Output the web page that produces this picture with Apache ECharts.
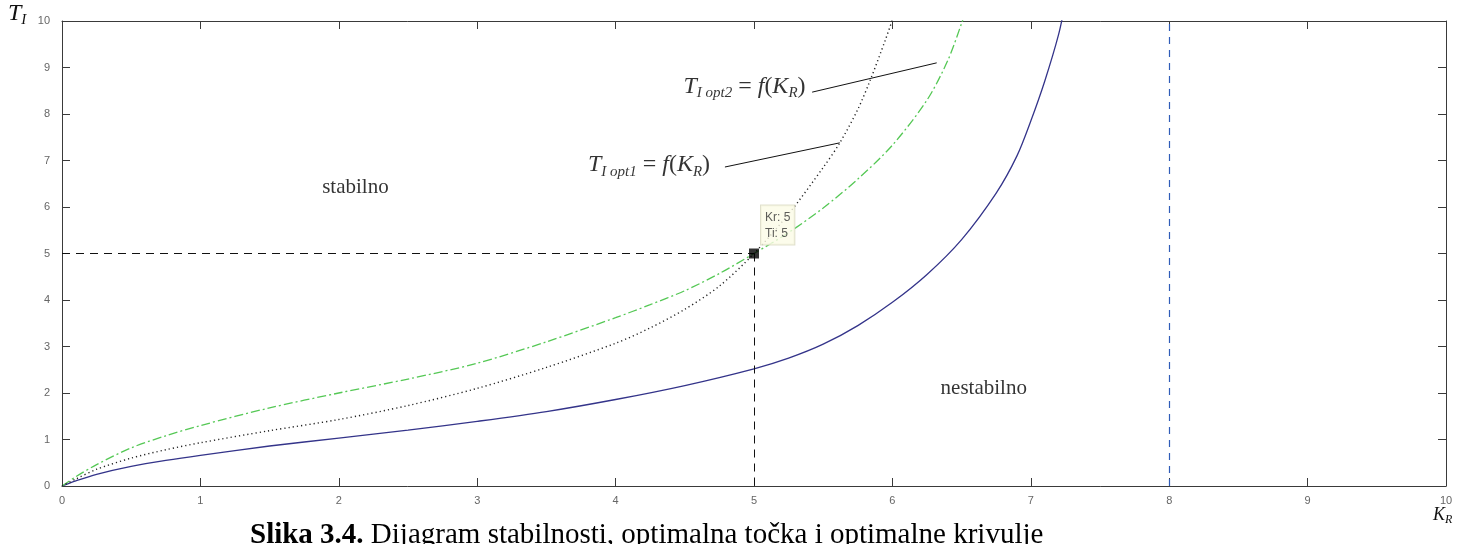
<!DOCTYPE html>
<html>
<head>
<meta charset="utf-8">
<script src="https://cdn.jsdelivr.net/npm/echarts@6.0.0/dist/echarts.min.js"></script>
<style>
html,body{margin:0;padding:0;background:#fff;}
#c{width:1473px;height:544px;}
</style>
</head>
<body>
<div id="c"></div>
<script>
// ---- data ----
var axisTicks = [0,1,2,3,4,5,6,7,8,9,10];

var stableK = [0, 0.1, 0.25, 0.5, 0.75, 1, 1.5, 2, 2.5, 3, 3.5, 4, 4.5, 5, 5.25, 5.5, 5.75, 6, 6.25, 6.5, 6.75, 6.9, 7, 7.1, 7.2, 7.25];
var stableT = [0, 0.11, 0.25, 0.42, 0.55, 0.66, 0.86, 1.03, 1.2, 1.39, 1.6, 1.86, 2.16, 2.52, 2.75, 3.05, 3.45, 3.95, 4.55, 5.3, 6.3, 7.1, 7.85, 8.7, 9.7, 10.4];

var opt2K = [0, 0.1, 0.25, 0.5, 0.75, 1, 1.5, 2, 2.5, 3, 3.5, 4, 4.25, 4.5, 4.75, 5, 5.25, 5.5, 5.75, 6, 6.25, 6.4, 6.5, 6.55];
var opt2T = [0, 0.2, 0.46, 0.82, 1.08, 1.3, 1.68, 2.0, 2.3, 2.64, 3.1, 3.62, 3.9, 4.2, 4.57, 5.0, 5.45, 5.98, 6.6, 7.33, 8.3, 9.15, 9.95, 10.4];

var opt1K = [0, 0.1, 0.25, 0.5, 0.75, 1, 1.5, 2, 2.5, 3, 3.5, 4, 4.25, 4.5, 4.75, 5, 5.25, 5.5, 5.62, 5.75, 5.84, 5.95, 6.02];
var opt1T = [0, 0.15, 0.36, 0.6, 0.78, 0.93, 1.19, 1.43, 1.73, 2.1, 2.55, 3.07, 3.4, 3.8, 4.3, 5.0, 5.85, 6.85, 7.38, 8.1, 8.73, 9.6, 10.2];

var optimumKr = 5, optimumTi = 5;
var limitKr = 8;

// annotation anchors (data coordinates)
var regionLabels = [
  {name: 'stabilno', k: 2.12, t: 6.41},
  {name: 'nestabilno', k: 6.66, t: 2.09}
];
var opt1Label = {k: 3.80, t: 6.90};
var opt2Label = {k: 4.49, t: 8.58};
var opt1Leader = [[4.79, 6.86], [5.62, 7.38]];
var opt2Leader = [[5.42, 8.47], [6.32, 9.10]];

function pairs(a, b) { return a.map(function (v, i) { return [v, b[i]]; }); }

var serif = '"Liberation Serif", "DejaVu Serif", serif';
var sans = '"Liberation Sans", Arial, sans-serif';

var mathRich = {
  T: {fontFamily: serif, fontStyle: 'italic', fontSize: 24, lineHeight: 28, color: '#000', verticalAlign: 'middle'},
  sub: {fontFamily: serif, fontStyle: 'italic', fontSize: 15, lineHeight: 20, color: '#000', verticalAlign: 'bottom'},
  n: {fontFamily: serif, fontSize: 24, lineHeight: 28, color: '#000', verticalAlign: 'middle'},
  it: {fontFamily: serif, fontStyle: 'italic', fontSize: 24, lineHeight: 28, color: '#000', verticalAlign: 'middle'}
};

var chart = echarts.init(document.getElementById('c'), null, {renderer: 'canvas'});

var axisCommon = {
  type: 'value', min: 0, max: 10, interval: 1,
  splitLine: {show: false},
  axisLine: {show: true, onZero: false, lineStyle: {color: '#3a3a3a', width: 1}},
  axisTick: {show: true, inside: true, length: 8, lineStyle: {color: '#3a3a3a'}}
};

var option = {
  backgroundColor: '#ffffff',
  animation: false,
  grid: {left: 62, right: 27, top: 21, bottom: 58, containLabel: false},
  xAxis: [
    Object.assign({}, axisCommon, {position: 'bottom',
      axisLabel: {show: true, color: '#666', fontSize: 11, fontFamily: sans, margin: 9,
        formatter: function (v) { return axisTicks.indexOf(v) >= 0 ? String(v) : ''; }}}),
    Object.assign({}, axisCommon, {position: 'top', axisLabel: {show: false}})
  ],
  yAxis: [
    Object.assign({}, axisCommon, {position: 'left',
      axisLabel: {show: true, color: '#666', fontSize: 11, fontFamily: sans, margin: 12,
        formatter: function (v) { return axisTicks.indexOf(v) >= 0 ? String(v) : ''; }}}),
    Object.assign({}, axisCommon, {position: 'right', axisLabel: {show: false}})
  ],
  series: [
    {
      name: 'stability limit', type: 'line', xAxisIndex: 0, yAxisIndex: 0,
      data: pairs(stableK, stableT), smooth: 0.3, showSymbol: false, clip: true,
      lineStyle: {color: '#34348a', width: 1.3, type: 'solid'},
      markLine: {
        silent: true, symbol: ['none', 'none'], label: {show: false},
        lineStyle: {color: '#2f5cb8', width: 1.2, type: [7, 6], opacity: 1},
        data: [{xAxis: limitKr, lineStyle: {color: '#2f5cb8'}}]
      }
    },
    {
      name: 'Ti opt2', type: 'line', data: pairs(opt2K, opt2T), smooth: 0.3, showSymbol: false, clip: true,
      lineStyle: {color: '#55c855', width: 1.3, type: [9, 3, 2, 3]},
      markLine: {
        silent: true, symbol: ['none', 'none'], label: {show: false},
        lineStyle: {color: '#111', width: 1, type: 'solid'},
        data: [[{coord: opt2Leader[0]}, {coord: opt2Leader[1]}]]
      }
    },
    {
      name: 'Ti opt1', type: 'line', data: pairs(opt1K, opt1T), smooth: 0.3, showSymbol: false, clip: true,
      lineStyle: {color: '#222', width: 1.4, type: [1.2, 3]},
      markLine: {
        silent: true, symbol: ['none', 'none'], label: {show: false},
        lineStyle: {color: '#111', width: 1, type: 'solid'},
        data: [[{coord: opt1Leader[0]}, {coord: opt1Leader[1]}]]
      }
    },
    {
      name: 'optimum', type: 'scatter', data: [[optimumKr, optimumTi]],
      symbol: 'rect', symbolSize: 10, itemStyle: {color: '#000'}, z: 5,
      label: {
        show: true, position: [12, -43], formatter: 'Kr: ' + optimumKr + '\nTi: ' + optimumTi,
        fontFamily: sans, fontSize: 12, color: '#333', lineHeight: 16,
        backgroundColor: '#fbfbe6', borderColor: '#d8d8c0', borderWidth: 1, padding: [4, 4, 3, 4]
      },
      markLine: {
        silent: true, symbol: ['none', 'none'], label: {show: false},
        lineStyle: {color: '#111', width: 1, type: [8, 6]},
        data: [
          [{coord: [0, optimumTi]}, {coord: [optimumKr, optimumTi]}],
          [{coord: [optimumKr, optimumTi]}, {coord: [optimumKr, 0]}]
        ]
      }
    },
    {
      name: 'regions', type: 'scatter', symbolSize: 0, silent: true,
      data: regionLabels.map(function (r) { return {name: r.name, value: [r.k, r.t]}; }),
      label: {show: true, position: 'inside', formatter: '{b}', fontFamily: serif, fontSize: 21, color: '#000'}
    },
    {
      name: 'labels', type: 'scatter', symbolSize: 0, silent: true,
      data: [
        {value: [opt1Label.k, opt1Label.t], name: 'opt1'},
        {value: [opt2Label.k, opt2Label.t], name: 'opt2'}
      ],
      label: {
        show: true, position: [0, 0], align: 'left', verticalAlign: 'middle',
        formatter: function (p) {
          var s = p.name === 'opt1' ? 'I opt1' : 'I opt2';
          return '{T|T}{sub|' + s + '}{n| = }{it|f}{n|(}{it|K}{sub|R}{n|)}';
        },
        rich: mathRich
      }
    }
  ],
  graphic: [
    {type: 'text', left: 8, top: 2, style: {
      rich: mathRich, text: '{T|T}{sub|I}', fill: '#111'}},
    {type: 'text', left: 1433, top: 506, style: {
      rich: {
        T: {fontFamily: serif, fontStyle: 'italic', fontSize: 18, lineHeight: 22, fill: '#111', verticalAlign: 'middle'},
        sub: {fontFamily: serif, fontStyle: 'italic', fontSize: 12, lineHeight: 15, fill: '#111', verticalAlign: 'bottom'}
      }, text: '{T|K}{sub|R}'}},
    {type: 'text', left: 250, top: 521, style: {
      rich: {
        b: {fontFamily: serif, fontWeight: 'bold', fontSize: 29, fill: '#000'},
        r: {fontFamily: serif, fontSize: 29, fill: '#000'}
      }, text: '{b|Slika 3.4.}{r| Dijagram stabilnosti, optimalna točka i optimalne krivulje}'}}
  ]
};
chart.setOption(option);
</script>
</body>
</html>
